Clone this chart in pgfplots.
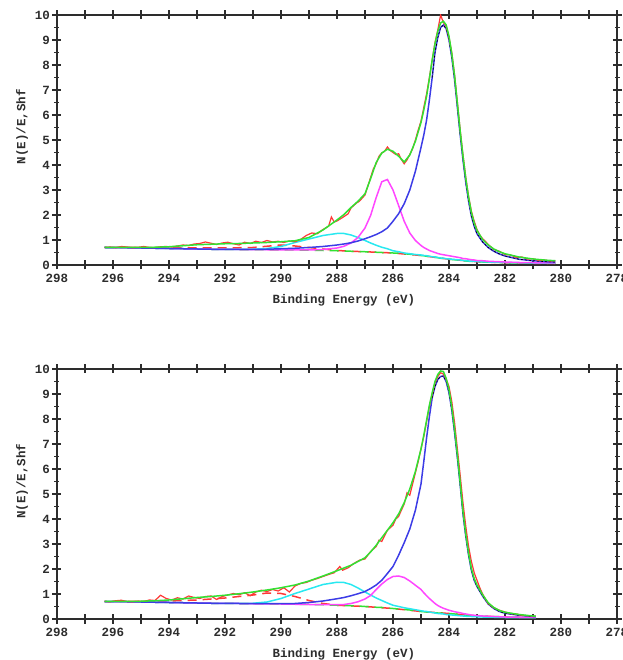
\documentclass[border=0pt]{standalone}
\usepackage{pgfplots}
\usepackage{pgfplotstable}
\pgfplotsset{compat=1.18}
\usepackage{fontspec}
\setmainfont{Liberation Mono}

\definecolor{cRed}{RGB}{255,55,55}
\definecolor{cGreen}{RGB}{50,225,50}
\definecolor{cBlue}{RGB}{60,60,230}
\definecolor{cMag}{RGB}{255,70,255}
\definecolor{cCyan}{RGB}{40,232,240}
\definecolor{cAx}{RGB}{45,45,45}

% ---------- top spectrum: components (each on top of the background) ----------
\pgfplotstableread{
E      bg    blue  mag   cyan  env
296.3  0.70  0.70  0.70  0.70  0.70
295.5  0.69  0.69  0.69  0.69  0.70
295.0  0.68  0.68  0.68  0.68  0.70
294.5  0.67  0.67  0.67  0.67  0.71
294.0  0.66  0.66  0.66  0.66  0.73
293.5  0.65  0.65  0.65  0.65  0.77
293.0  0.64  0.64  0.64  0.64  0.81
292.5  0.63  0.63  0.63  0.63  0.83
292.0  0.62  0.62  0.62  0.62  0.85
291.5  0.62  0.62  0.62  0.62  0.86
291.0  0.61  0.62  0.61  0.63  0.88
290.5  0.61  0.63  0.61  0.66  0.90
290.0  0.60  0.65  0.60  0.74  0.93
289.5  0.60  0.67  0.60  0.90  0.97
289.0  0.59  0.70  0.60  1.04  1.10
288.5  0.58  0.74  0.62  1.18  1.40
288.0  0.57  0.80  0.68  1.26  1.80
287.75 0.56  0.84  0.75  1.26  2.02
287.5  0.55  0.89  0.88  1.20  2.30
287.25 0.54  0.96  1.10  1.10  2.55
287.0  0.53  1.05  1.48  0.98  2.85
286.8  0.52  1.13  1.98  0.88  3.45
286.6  0.51  1.22  2.70  0.79  4.10
286.4  0.50  1.33  3.33  0.71  4.48
286.2  0.49  1.48  3.42  0.65  4.63
286.0  0.48  1.75  3.00  0.57  4.55
285.8  0.47  2.05  2.38  0.53  4.35
285.6  0.45  2.45  1.75  0.48  4.12
285.4  0.43  3.00  1.28  0.45  4.40
285.2  0.41  3.75  0.98  0.42  4.95
285.0  0.38  4.70  0.78  0.40  5.70
284.9  0.37  5.20  0.70  0.38  6.20
284.8  0.35  5.80  0.64  0.37  6.75
284.7  0.34  6.60  0.58  0.35  7.45
284.6  0.32  7.50  0.54  0.33  8.20
284.5  0.31  8.50  0.50  0.32  8.85
284.4  0.29  9.10  0.46  0.30  9.35
284.3  0.27  9.50  0.43  0.28  9.68
284.2  0.26  9.60  0.41  0.27  9.75
284.1  0.24  9.45  0.39  0.25  9.60
284.0  0.23  9.00  0.37  0.24  9.15
283.9  0.22  8.30  0.35  0.23  8.45
283.8  0.21  7.40  0.33  0.22  7.55
283.7  0.20  6.30  0.31  0.21  6.45
283.6  0.19  5.20  0.29  0.20  5.35
283.5  0.17  4.20  0.26  0.18  4.35
283.4  0.16  3.30  0.25  0.17  3.45
283.3  0.15  2.55  0.23  0.16  2.70
283.2  0.14  1.95  0.21  0.15  2.10
283.1  0.14  1.55  0.20  0.15  1.68
283.0  0.13  1.25  0.18  0.14  1.38
282.8  0.12  0.92  0.17  0.13  1.02
282.6  0.11  0.70  0.15  0.12  0.80
282.4  0.10  0.55  0.14  0.11  0.64
282.2  0.10  0.44  0.13  0.11  0.53
282.0  0.09  0.36  0.12  0.10  0.45
281.5  0.08  0.23  0.10  0.09  0.32
281.0  0.07  0.17  0.09  0.08  0.24
280.5  0.07  0.13  0.08  0.07  0.19
280.2  0.06  0.12  0.08  0.07  0.17
}\topfit

\pgfplotstableread{
E y
296.3 0.70
296.1 0.72
295.9 0.69
295.7 0.74
295.5 0.72
295.3 0.69
295.1 0.71
294.9 0.74
294.7 0.70
294.5 0.70
294.3 0.73
294.1 0.74
293.9 0.72
293.7 0.76
293.5 0.80
293.3 0.78
293.1 0.84
292.9 0.86
292.7 0.92
292.5 0.87
292.3 0.82
292.1 0.88
291.9 0.91
291.7 0.85
291.5 0.80
291.3 0.91
291.1 0.86
290.9 0.95
290.7 0.90
290.5 0.98
290.3 0.92
290.1 0.95
289.9 0.90
289.7 0.96
289.5 0.93
289.3 1.02
289.1 1.18
288.9 1.28
288.7 1.25
288.5 1.42
288.3 1.55
288.2 1.92
288.1 1.72
288.0 1.76
287.8 1.90
287.6 2.05
287.5 2.28
287.3 2.48
287.2 2.55
287.0 2.80
286.9 3.15
286.8 3.50
286.7 3.85
286.6 4.05
286.5 4.35
286.4 4.48
286.3 4.55
286.2 4.72
286.1 4.58
286.0 4.50
285.9 4.42
285.8 4.45
285.7 4.22
285.6 4.05
285.5 4.20
285.4 4.42
285.3 4.65
285.2 5.00
285.1 5.40
285.0 5.75
284.9 6.30
284.8 6.85
284.7 7.50
284.6 8.20
284.5 8.90
284.4 9.40
284.3 10.00
284.2 9.70
284.1 9.55
284.0 9.10
283.9 8.50
283.8 7.60
283.7 6.50
283.6 5.40
283.5 4.40
283.4 3.50
283.3 2.75
283.2 2.15
283.1 1.75
283.0 1.42
282.9 1.20
282.8 1.05
282.7 0.95
282.6 0.82
282.4 0.62
282.2 0.55
282.0 0.42
281.8 0.40
281.6 0.30
281.4 0.32
281.2 0.24
281.0 0.25
280.8 0.18
280.6 0.20
280.4 0.16
280.2 0.17
}\topraw

\pgfplotstableread{
E y
296.3 0.70
295.0 0.70
294.0 0.69
293.0 0.68
292.0 0.68
291.0 0.70
290.5 0.75
290.0 0.80
289.5 0.76
289.0 0.70
288.5 0.64
288.0 0.58
287.5 0.55
287.0 0.53
286.0 0.48
285.0 0.38
284.0 0.23
283.0 0.13
282.0 0.09
281.0 0.07
280.2 0.06
}\topdash

% ---------- bottom spectrum ----------
\pgfplotstableread{
E      bg    blue  mag   cyan  env
296.3  0.70  0.70  0.70  0.70  0.70
295.5  0.69  0.69  0.69  0.69  0.70
295.0  0.68  0.68  0.68  0.68  0.71
294.5  0.67  0.67  0.67  0.67  0.73
294.0  0.66  0.66  0.66  0.66  0.76
293.5  0.65  0.65  0.65  0.65  0.81
293.0  0.64  0.64  0.64  0.64  0.86
292.5  0.63  0.63  0.63  0.63  0.90
292.0  0.62  0.62  0.62  0.62  0.95
291.5  0.62  0.62  0.62  0.62  1.01
291.0  0.61  0.61  0.61  0.63  1.08
290.5  0.61  0.61  0.60  0.68  1.16
290.0  0.60  0.61  0.60  0.82  1.25
289.5  0.59  0.62  0.59  1.02  1.36
289.0  0.58  0.66  0.58  1.20  1.52
288.5  0.57  0.72  0.57  1.38  1.72
288.0  0.55  0.81  0.57  1.47  1.93
287.75 0.54  0.86  0.58  1.46  2.04
287.5  0.53  0.93  0.62  1.38  2.15
287.25 0.52  1.01  0.69  1.24  2.30
287.0  0.50  1.10  0.80  1.08  2.45
286.8  0.49  1.22  0.94  0.96  2.68
286.6  0.47  1.36  1.18  0.84  2.95
286.4  0.46  1.55  1.40  0.74  3.25
286.2  0.44  1.82  1.58  0.64  3.55
286.0  0.42  2.10  1.70  0.55  3.85
285.8  0.40  2.55  1.72  0.50  4.20
285.6  0.38  3.05  1.66  0.45  4.65
285.4  0.36  3.60  1.52  0.41  5.20
285.2  0.33  4.35  1.35  0.37  5.90
285.0  0.30  5.40  1.18  0.33  6.80
284.9  0.29  6.30  1.05  0.31  7.35
284.8  0.28  7.25  0.93  0.30  7.95
284.7  0.27  8.10  0.82  0.28  8.55
284.6  0.26  8.85  0.72  0.26  9.05
284.5  0.25  9.30  0.62  0.24  9.50
284.4  0.24  9.58  0.54  0.22  9.78
284.3  0.23  9.70  0.48  0.21  9.92
284.2  0.23  9.72  0.43  0.20  9.90
284.1  0.22  9.50  0.39  0.18  9.62
284.0  0.22  9.05  0.35  0.17  9.18
283.9  0.21  8.35  0.32  0.16  8.48
283.8  0.20  7.45  0.29  0.15  7.58
283.7  0.19  6.45  0.27  0.14  6.56
283.6  0.18  5.35  0.25  0.13  5.45
283.5  0.16  4.20  0.22  0.12  4.30
283.4  0.15  3.30  0.20  0.11  3.39
283.3  0.14  2.55  0.18  0.10  2.63
283.2  0.13  1.95  0.16  0.10  2.02
283.1  0.13  1.55  0.15  0.09  1.62
283.0  0.12  1.30  0.14  0.09  1.36
282.8  0.11  0.92  0.12  0.08  0.97
282.6  0.10  0.60  0.11  0.07  0.65
282.4  0.09  0.42  0.10  0.07  0.46
282.2  0.09  0.30  0.09  0.06  0.34
282.0  0.08  0.23  0.08  0.06  0.27
281.5  0.07  0.15  0.07  0.05  0.18
281.0  0.06  0.10  0.06  0.05  0.12
280.9  0.06  0.09  0.06  0.05  0.11
}\botfit

\pgfplotstableread{
E y
296.3 0.70
296.1 0.69
295.9 0.73
295.7 0.75
295.5 0.70
295.3 0.69
295.1 0.72
294.9 0.70
294.7 0.76
294.5 0.74
294.3 0.95
294.1 0.82
293.9 0.76
293.7 0.85
293.5 0.80
293.3 0.92
293.1 0.86
292.9 0.82
292.7 0.90
292.5 0.92
292.3 0.78
292.1 0.90
291.9 0.96
291.7 1.02
291.5 0.97
291.3 1.05
291.1 0.93
290.9 1.08
290.7 1.15
290.5 1.10
290.3 1.18
290.1 1.12
289.9 1.25
289.7 1.08
289.5 1.32
289.3 1.42
289.1 1.46
288.9 1.55
288.7 1.62
288.5 1.70
288.3 1.78
288.1 1.85
287.9 2.10
287.8 1.95
287.6 2.05
287.4 2.22
287.2 2.35
287.0 2.40
286.8 2.70
286.6 2.90
286.5 3.15
286.4 3.10
286.2 3.55
286.0 3.75
285.9 4.00
285.8 4.10
285.7 4.35
285.6 4.60
285.5 5.05
285.4 4.95
285.3 5.40
285.2 5.85
285.1 6.30
285.0 6.80
284.9 7.30
284.8 7.90
284.7 8.50
284.6 9.00
284.5 9.45
284.4 9.70
284.3 9.85
284.2 9.80
284.1 9.60
284.0 9.30
283.9 8.70
283.8 7.85
283.7 6.80
283.6 5.75
283.5 4.65
283.4 3.70
283.3 2.90
283.2 2.30
283.1 1.85
283.0 1.55
282.9 1.25
282.8 1.00
282.7 0.80
282.6 0.62
282.4 0.45
282.2 0.35
282.0 0.28
281.8 0.22
281.6 0.20
281.4 0.15
281.2 0.13
281.0 0.12
280.9 0.11
}\botraw

\pgfplotstableread{
E y
296.3 0.70
295.0 0.70
294.0 0.72
293.0 0.76
292.0 0.84
291.0 0.96
290.5 1.04
290.0 1.02
289.5 0.90
289.0 0.74
288.5 0.62
288.0 0.55
287.0 0.50
286.0 0.42
285.0 0.30
284.0 0.22
283.0 0.12
282.0 0.08
281.0 0.06
280.9 0.06
}\botdash

\pgfplotsset{
  xps/.style={
    scale only axis, width=560pt, height=250pt,
    x dir=reverse, xmin=278, xmax=298, ymin=0, ymax=10,
    xtick={278,279,...,298},
    xticklabels={278,,280,,282,,284,,286,,288,,290,,292,,294,,296,,298},
    ytick={0,...,10}, minor ytick={0.5,1.5,...,9.5},
    tick align=center, major tick length=9pt, minor tick length=5pt,
    axis line style={line width=1.4pt, cAx},
    every tick/.style={line width=1.1pt, cAx},
    tick label style={font=\fontsize{12.5}{14}\selectfont\bfseries, text=cAx},
    /pgf/number format/assume math mode=true,
    xticklabel style={yshift=-1pt},
    yticklabel style={xshift=1pt},
    label style={font=\fontsize{12.5}{14}\selectfont\bfseries, text=cAx},
    xlabel={Binding Energy (eV)},
    ylabel={N(E)/E,Shf},
    xlabel style={at={([xshift=7pt,yshift=-35pt]axis description cs:0.5,0)}, anchor=center},
    ylabel style={at={([xshift=-35pt,yshift=13pt]axis description cs:0,0.5)}, anchor=center},
    every axis plot/.append style={line width=1.5pt},
  },
  bgg/.style={cGreen, dash pattern=on 9pt off 6pt},
  bgr/.style={cRed, dash pattern=on 9pt off 6pt, dash phase=7pt},
}

\begin{document}
\begin{tikzpicture}
\useasboundingbox (0,0) rectangle (622pt,660pt);

\begin{axis}[xps, at={(57pt,395pt)}, anchor=south west]
  \addplot[bgr] table[x=E,y=y] {\topdash};
  \addplot[bgg] table[x=E,y=bg] {\topfit};
  \addplot[cCyan] table[x=E,y=cyan] {\topfit};
  \addplot[cMag] table[x=E,y=mag] {\topfit};
  \addplot[cBlue] table[x=E,y=blue] {\topfit};
  \addplot[black, line width=0.7pt, dash pattern=on 2pt off 2pt, restrict x to domain=280:284.6] table[x=E,y=blue] {\topfit};
  \addplot[cRed, line width=1.2pt] table[x=E,y=y] {\topraw};
  \addplot[cGreen] table[x=E,y=env] {\topfit};
\end{axis}

\begin{axis}[xps, at={(57pt,41pt)}, anchor=south west]
  \addplot[bgr] table[x=E,y=y] {\botdash};
  \addplot[bgg] table[x=E,y=bg] {\botfit};
  \addplot[cCyan] table[x=E,y=cyan] {\botfit};
  \addplot[cMag] table[x=E,y=mag] {\botfit};
  \addplot[cBlue] table[x=E,y=blue] {\botfit};
  \addplot[black, line width=0.7pt, dash pattern=on 2pt off 2pt, restrict x to domain=280:284.6] table[x=E,y=blue] {\botfit};
  \addplot[cRed, line width=1.2pt] table[x=E,y=y] {\botraw};
  \addplot[cGreen] table[x=E,y=env] {\botfit};
\end{axis}
\end{tikzpicture}
\end{document}
